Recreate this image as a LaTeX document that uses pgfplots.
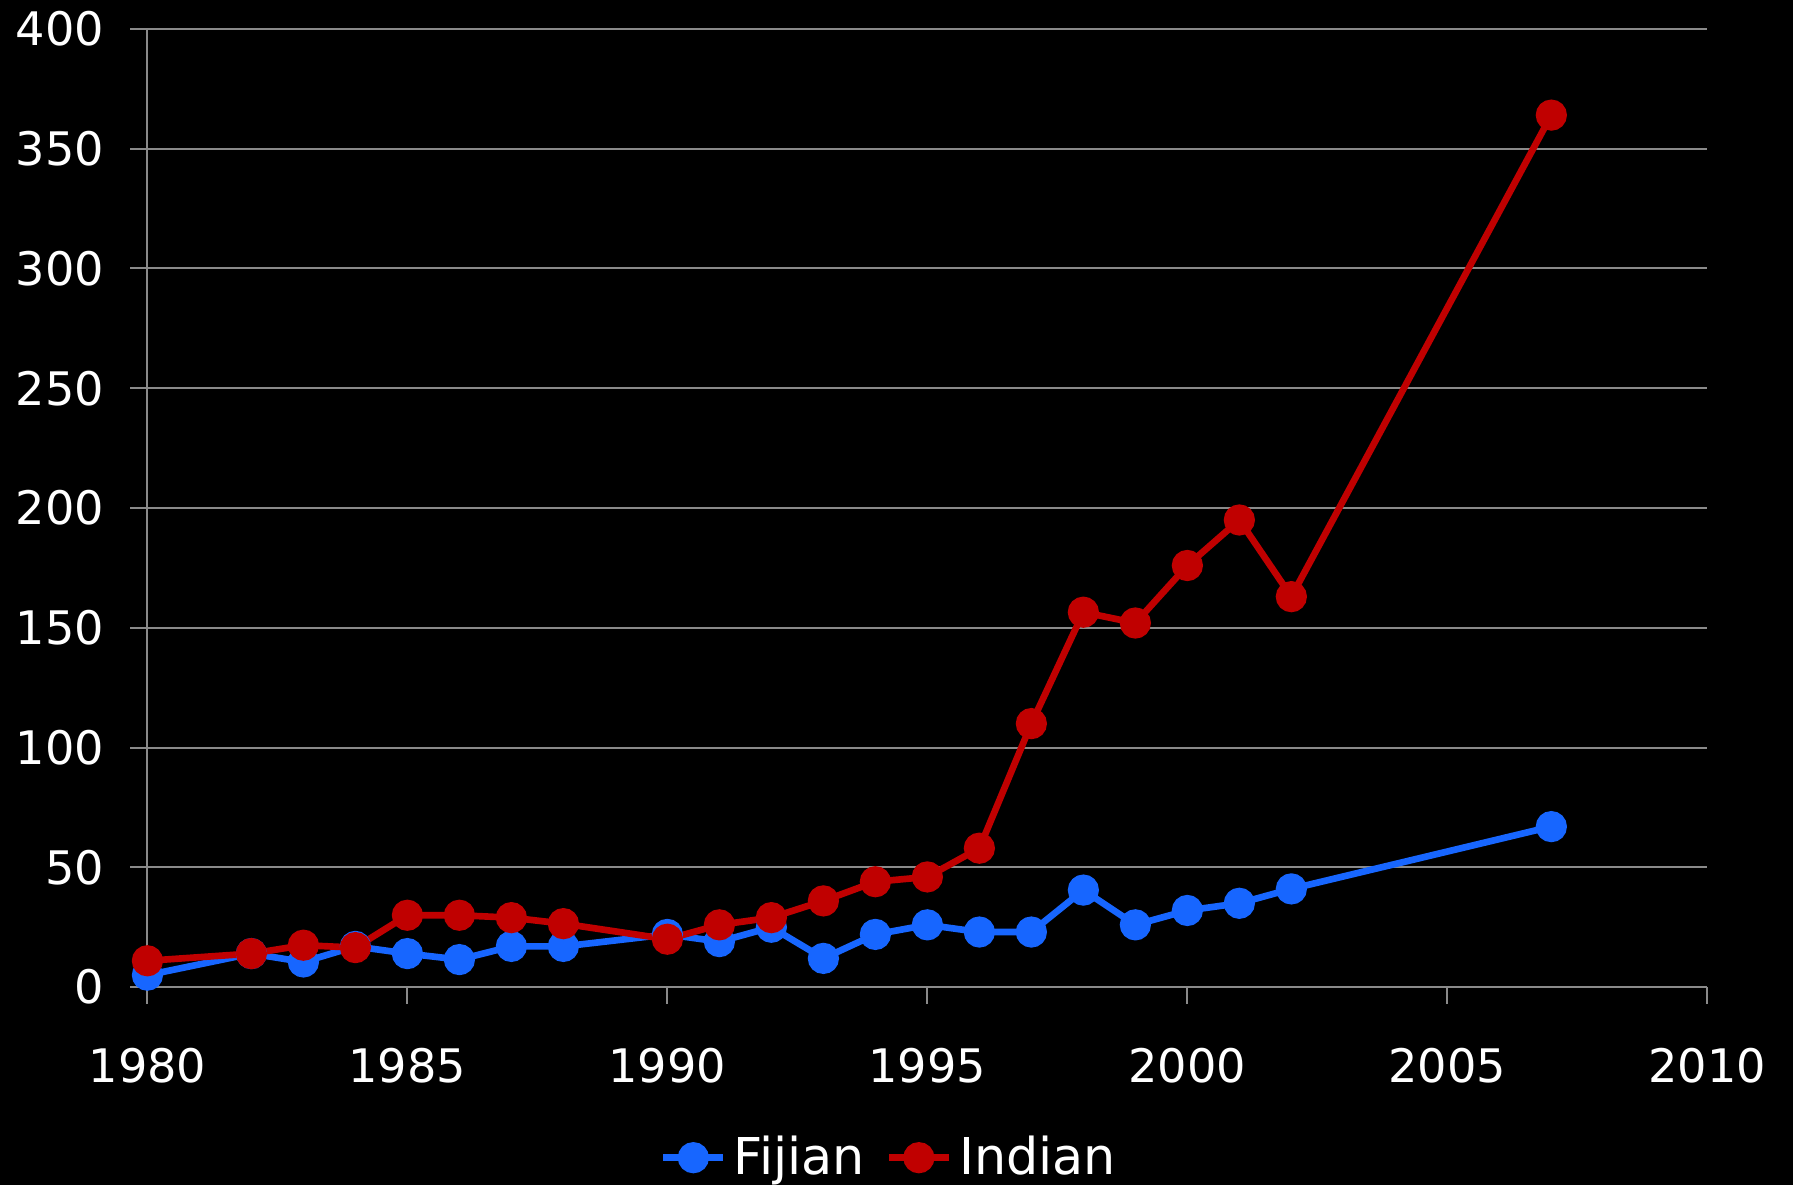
\documentclass[border=0pt]{standalone}
\usepackage{pgfplots}
\pgfplotsset{compat=1.18}
\usepackage{fontspec}
\setmainfont{DejaVu Sans}
\definecolor{fijblue}{HTML}{1766FF}
\definecolor{indred}{HTML}{C00000}
\definecolor{gridgray}{HTML}{8A8A8A}
\begin{document}
\begin{tikzpicture}
% black page
\fill[black] (-1.48cm,-1.99cm) rectangle (16.52cm,9.91cm);
\begin{axis}[
    at={(0,0)}, anchor=south west,
    scale only axis, width=15.66cm, height=9.62cm,
    xmin=1980, xmax=2010, ymin=0, ymax=400,
    xtick={1980,1985,...,2010},
    ytick={0,50,...,400},
    axis x line*=bottom, axis y line*=left,
    axis line style={gridgray, line width=0.6pt, -},
    tick align=outside, major tick length=0.17cm,
    tick style={gridgray, line width=0.6pt},
    ymajorgrids, grid style={gridgray, line width=0.6pt},
    /pgf/number format/assume math mode=true,
    xticklabel style={/pgf/number format/1000 sep={}, text=white,
        font=\fontsize{13.2}{15}\selectfont, yshift=-9pt},
    yticklabel style={text=white, font=\fontsize{13.2}{15}\selectfont, xshift=-4pt},
    legend style={at={(rel axis cs:0.477,-0.178)}, anchor=center,
        draw=none, fill=none, text=white,
        font=\fontsize{14.5}{16}\selectfont,
        /tikz/every even column/.append style={column sep=4pt}},
    legend columns=2,
    legend image code/.code={
        \draw[#1, mark=none] (0cm,0cm) -- (0.6cm,0cm);
        \draw[#1] plot coordinates {(0.3cm,0cm)};},
    every axis plot/.append style={line width=1.9pt, mark=*, mark size=3.5pt},
]
\addplot[fijblue, mark options={fill=fijblue, draw=fijblue}] coordinates {
 (1980,5) (1982,14) (1983,10.5) (1984,17) (1985,14) (1986,11.5) (1987,17)
 (1988,17) (1990,22) (1991,19) (1992,25) (1993,12) (1994,22) (1995,26)
 (1996,23) (1997,23) (1998,40.5) (1999,26) (2000,32) (2001,35) (2002,41)
 (2007,67)};
\addlegendentry{Fijian}
\addplot[indred, mark options={fill=indred, draw=indred}] coordinates {
 (1980,11) (1982,14) (1983,17.5) (1984,16.5) (1985,30) (1986,30) (1987,29)
 (1988,26.5) (1990,20) (1991,26) (1992,29) (1993,36) (1994,44) (1995,46)
 (1996,58) (1997,110) (1998,156.5) (1999,152) (2000,176) (2001,195)
 (2002,163) (2007,364)};
\addlegendentry{Indian}
\end{axis}
\pgfresetboundingbox
\path[use as bounding box] (-1.48cm,-1.99cm) rectangle (16.52cm,9.91cm);
\end{tikzpicture}
\end{document}
